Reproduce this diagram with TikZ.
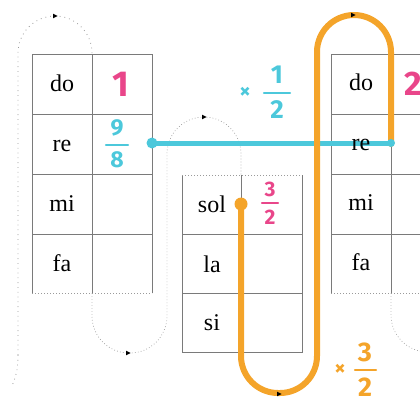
\documentclass[tikz,border=0pt]{standalone}
\usepackage{fontspec}
\setmainfont{Liberation Serif}
\newfontfamily\handfont{Fira Sans}
\usetikzlibrary{arrows.meta}
\definecolor{pk}{HTML}{E9468A}
\definecolor{cy}{HTML}{4CC8DB}
\definecolor{og}{HTML}{F4A42A}
\definecolor{gridc}{HTML}{7A7A7A}
\definecolor{dotc}{HTML}{9A9A9A}
\tikzset{
  gridline/.style={draw=gridc, line width=0.9pt},
  dotline/.style={draw=dotc, line width=0.7pt, dash pattern=on 0.7pt off 2.3pt, rounded corners=37pt},
  sparsedot/.style={draw=dotc, line width=0.8pt, dash pattern=on 0.8pt off 4pt, rounded corners=37pt},
  note/.style={font=\fontsize{24}{28}\selectfont, anchor=base, inner sep=0pt},
  hand/.style={font=\handfont\bfseries\fontsize{#1}{#1}\selectfont, inner sep=0pt},
  bar/.style={line width=2.4pt, line cap=round},
  marker/.style={line width=#1, line cap=round, line join=round, rounded corners=37pt},
}
\newcommand{\tiptri}[2]{\fill[black] (#1-2,#2-2.3) -- (#1+2.6,#2) -- (#1-2,#2+2.3) -- cycle;}
\begin{document}
\begin{tikzpicture}[x=1pt,y=-1pt]
\useasboundingbox (0,0) rectangle (420,397);
\clip (0,0) rectangle (420,397);
% left table
\draw[gridline] (32,293) -- (32,54) -- (152,54) -- (152,293);
\draw[gridline] (92,54) -- (92,293);
\foreach \y in {114,174,234} \draw[gridline] (32,\y) -- (152,\y);
\draw[dotline] (32,293) -- (152,293);
% middle table
\draw[gridline] (182,175) -- (182,352) -- (302,352) -- (302,175);
\draw[gridline] (241,175) -- (241,352);
\foreach \y in {234,293} \draw[gridline] (182,\y) -- (302,\y);
\draw[dotline] (182,175) -- (302,175);
% right table
\draw[gridline] (331,293) -- (331,54) -- (430,54);
\draw[gridline] (391,54) -- (391,293);
\foreach \y in {114,174,234} \draw[gridline] (331,\y) -- (430,\y);
\draw[dotline] (331,293) -- (430,293);
% dotted loops
\draw[sparsedot] (18,355) -- (18,16) -- (92,16) -- (92,54);
\draw[sparsedot, rounded corners=0pt] (18,355) .. controls (18,372) and (15,378) .. (12,386);
\draw[dotline] (92,293) -- (92,353) -- (167,353) -- (167,117) -- (241,117) -- (241,175);
\draw[dotline] (391,293) -- (391,352) -- (465,352) -- (465,293);
\tiptri{55}{16}
\tiptri{128}{353}
\tiptri{204}{117}
% cyan line
\draw[cy, marker=5pt] (152,143) -- (391,143);
\fill[cy] (152,143) circle (5.5pt);
% orange line
\draw[og, marker=6pt] (241,204) -- (241,393) -- (317,393) -- (317,15) -- (391,15) -- (391,144);
\fill[og] (241,204) circle (6.5pt);
\fill[cy] (391,143) circle (4pt);
\tiptri{353}{15}
\tiptri{279}{394}
% text
\node[note] (ldo) at (62,91) {do};
\node[note] (lre) at (62,151) {re};
\node[note] (lmi) at (62,211) {mi};
\node[note] (lfa) at (62,271) {fa};
\node[note] (msol) at (212,212) {sol};
\node[note] (mla) at (212,272) {la};
\node[note] (msi) at (212,330) {si};
\node[note] (rdo) at (361,90) {do};
\node[note] (rre) at (361,150) {re};
\node[note] (rmi) at (361,210) {mi};
\node[note] (rfa) at (361,270) {fa};
% figures
\node[hand=36, text=pk] (one) at (121,84) {1};
\node[hand=34, text=pk] (two) at (413,84) {2};
\node[hand=23, text=cy] (nine) at (117,128) {9};
\node[hand=23, text=cy] (eight) at (117,160) {8};
\draw[cy, bar] (106,145) -- (128,145);
\node[hand=21, text=pk] (three) at (270,189) {3};
\node[hand=21, text=pk] (twob) at (270,217) {2};
\draw[pk, bar] (262,203) -- (278,203);
\node[hand=22, text=cy] (times1) at (245,93) {×};
\node[hand=26, text=cy] (onec) at (277,75) {1};
\node[hand=26, text=cy] (twoc) at (277,110) {2};
\draw[cy, bar] (264,93) -- (290,93);
\node[hand=22, text=og] (times2) at (340,370) {×};
\node[hand=27, text=og] (threeo) at (365,352) {3};
\node[hand=27, text=og] (twoo) at (365,387) {2};
\draw[og, bar] (355,370) -- (376,370);
\end{tikzpicture}
\end{document}
